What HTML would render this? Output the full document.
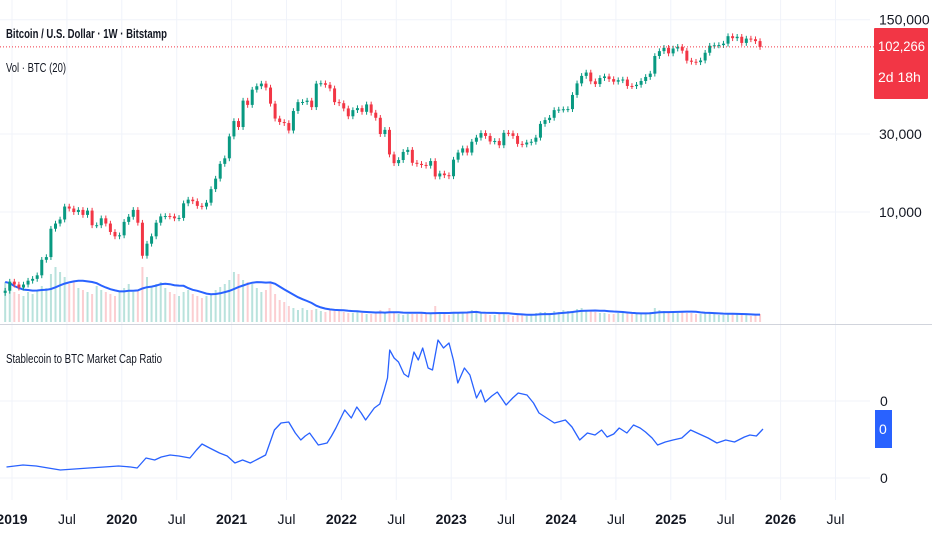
<!DOCTYPE html>
<html><head><meta charset="utf-8">
<style>
html,body{margin:0;padding:0;background:#fff;}
svg{display:block;font-family:"Liberation Sans",sans-serif;}
</style></head>
<body>
<svg id="chart" width="932" height="550" viewBox="0 0 932 550">
  <g id="grid"></g>
  <g id="vol"></g>
  <g id="candles"></g>
  <g id="ratio"></g>
  <g id="axes"></g>
  <text x="6" y="38" font-size="13" font-weight="bold" fill="#131722" textLength="161" lengthAdjust="spacingAndGlyphs">Bitcoin / U.S. Dollar · 1W · Bitstamp</text>
  <text x="6" y="72" font-size="13" fill="#131722" textLength="60" lengthAdjust="spacingAndGlyphs">Vol · BTC (20)</text>
  <text x="6" y="363" font-size="13" fill="#131722" textLength="156" lengthAdjust="spacingAndGlyphs">Stablecoin to BTC Market Cap Ratio</text>
</svg>
<script>
// half-monthly data, Dec 2018 .. Oct 2025
const prices = [3300,3750,
3600,3450,3600,3800,3900,4100,5100,5300,7900,8500,9000,10800,10500,10000,10300,9600,10200,8300,8300,9150,8500,7550,7100,7200,
8700,9350,10300,8600,5400,6400,7100,8600,9400,9450,9400,9150,9200,11300,11900,11650,10900,10800,11400,13800,16000,19700,21300,29000,
36000,33100,48000,45200,56000,58800,61000,57700,46000,37300,35500,35000,31500,41500,47000,47100,48000,43800,61000,61300,60000,57000,47000,46300,
43000,38500,42000,43200,41000,45500,40500,37700,30000,31800,22500,19900,20800,23300,24000,20000,19700,19400,19200,20500,16500,17200,16800,16550,
20900,23100,24500,23100,26900,28500,30400,29200,27000,27200,25600,30500,30300,29200,26100,25900,26600,26900,28500,34600,36500,37700,42000,42300,
42500,42600,52000,61200,68000,71300,63000,60600,66000,67500,65000,62700,64000,64600,59000,58900,60000,63300,67000,70200,90000,96400,101000,93400,
100000,102400,97000,84300,83000,82500,84500,94200,104000,104600,105000,107100,119000,115700,118000,108200,115000,114000,111000,102266];
const volumes = [40,38,
30,28,26,30,28,32,36,34,48,55,50,45,38,40,34,32,30,28,36,32,30,28,26,30,
34,38,30,32,55,45,36,38,40,34,30,28,26,30,32,28,26,24,26,28,32,35,38,42,
50,48,42,40,38,34,30,32,40,28,22,20,16,14,12,14,12,12,13,11,10,12,11,12,
10,9,9,10,9,8,8,9,12,10,14,9,8,7,8,8,8,9,8,8,16,10,8,7,
10,9,9,10,12,10,9,8,7,7,8,9,7,6,8,7,6,7,9,10,10,9,11,10,
12,11,11,13,14,12,11,10,9,9,8,8,9,10,9,8,8,8,9,10,14,12,11,10,
10,9,10,9,9,8,8,9,9,8,7,7,9,8,8,7,7,6,7,8];
const ratioDates = [2018.95,2019.1,2019.22,2019.33,2019.44,2019.57,2019.7,2019.84,2019.97,2020.08,2020.14,2020.22,2020.3,2020.36,2020.44,2020.52,2020.62,2020.68,2020.73,2020.8,2020.89,2020.96,2021.03,2021.1,2021.17,2021.24,2021.31,2021.39,2021.45,2021.52,2021.58,2021.63,2021.67,2021.71,2021.79,2021.87,2021.91,2021.95,2022.03,2022.09,2022.14,2022.18,2022.22,2022.3,2022.35,2022.39,2022.42,2022.44,2022.48,2022.52,2022.57,2022.61,2022.66,2022.7,2022.74,2022.79,2022.83,2022.88,2022.93,2022.98,2023.02,2023.06,2023.12,2023.17,2023.23,2023.27,2023.31,2023.37,2023.42,2023.5,2023.56,2023.61,2023.69,2023.75,2023.8,2023.87,2023.94,2024.04,2024.1,2024.17,2024.24,2024.31,2024.37,2024.42,2024.48,2024.53,2024.6,2024.66,2024.72,2024.77,2024.83,2024.88,2024.95,2025.02,2025.1,2025.18,2025.26,2025.34,2025.42,2025.5,2025.58,2025.67,2025.72,2025.78,2025.84];
const ratioValues = [0.011,0.013,0.012,0.010,0.008,0.009,0.010,0.011,0.012,0.011,0.010,0.020,0.018,0.021,0.023,0.022,0.020,0.028,0.034,0.030,0.025,0.022,0.015,0.018,0.015,0.019,0.023,0.048,0.055,0.056,0.045,0.038,0.042,0.045,0.033,0.035,0.042,0.050,0.068,0.060,0.071,0.065,0.058,0.070,0.074,0.088,0.100,0.128,0.120,0.116,0.104,0.101,0.126,0.118,0.130,0.110,0.108,0.138,0.130,0.135,0.118,0.095,0.110,0.103,0.080,0.088,0.076,0.082,0.086,0.073,0.080,0.085,0.083,0.075,0.065,0.060,0.055,0.058,0.051,0.038,0.045,0.043,0.048,0.041,0.044,0.050,0.045,0.053,0.050,0.046,0.040,0.033,0.036,0.038,0.040,0.048,0.044,0.040,0.035,0.038,0.036,0.041,0.043,0.042,0.049];
const xTickLabels = ["2019","Jul","2020","Jul","2021","Jul","2022","Jul","2023","Jul","2024","Jul","2025","Jul","2026","Jul"];
const xTickDates = [2019,2019.5,2020,2020.5,2021,2021.5,2022,2022.5,2023,2023.5,2024,2024.5,2025,2025.5,2026,2026.5];
const priceTicks = [150000,30000,10000];
const priceTickLabels = ["150,000","30,000","10,000"];

const NS="http://www.w3.org/2000/svg";
function mk(tag,attrs,parent){const e=document.createElementNS(NS,tag);for(const k in attrs)e.setAttribute(k,attrs[k]);parent.appendChild(e);return e;}
const xOf = t => 12 + (t-2019)*109.8;
const tOfIdx = i => 2018.917 + (i+0.5)/24;
const yPrice = p => 134 - 71*Math.log(p/30000);
const yVol = v => 322 - v;
const yRatio = v => 478 - v*1000;

const grid=document.getElementById('grid');
xTickDates.forEach((d,i)=>{
  const l=mk('line',{x1:xOf(d),x2:xOf(d),y1:0,y2:500,stroke:'#f0f3fa','stroke-width':1},grid);
  
  
});
priceTicks.forEach(p=>{
  const l=mk('line',{x1:0,x2:870,y1:yPrice(p),y2:yPrice(p),stroke:'#f0f3fa','stroke-width':1},grid);
  
  
});
[401,478].forEach(y=>{
  const l=mk('line',{x1:0,x2:870,y1:y,y2:y,stroke:'#f0f3fa','stroke-width':1},grid);
  
  
});
const sep=mk('line',{x1:0,x2:932,y1:324.5,y2:324.5,stroke:'#d1d4dc','stroke-width':1},grid);



// volume
const vol=document.getElementById('vol');
volumes.forEach((v,i)=>{
  const up = i===0 || prices[i]>=prices[i-1];
  const r=mk('rect',{x:xOf(tOfIdx(i))-1,y:yVol(v),width:2,height:v,fill:up?'#7fcbbf':'#f8a5ab','fill-opacity':0.55},vol);
  
  
});
let maPts=[];
volumes.forEach((v,i)=>{
  const s=volumes.slice(Math.max(0,i-9),i+1);
  const m=s.reduce((a,b)=>a+b,0)/s.length;
  maPts.push(xOf(tOfIdx(i)).toFixed(1)+','+yVol(m).toFixed(1));
});
const ma=mk('polyline',{points:maPts.join(' '),fill:'none',stroke:'#2962ff','stroke-width':2},vol);



// candles
const cg=document.getElementById('candles');
prices.forEach((c,i)=>{
  const o = i===0 ? c*0.97 : prices[i-1];
  const hi=Math.max(o,c)*1.04, lo=Math.min(o,c)*0.96;
  const up=c>=o, col=up?'#089981':'#f23645', x=xOf(tOfIdx(i));
  const w=mk('line',{x1:x,x2:x,y1:yPrice(hi),y2:yPrice(lo),stroke:col,'stroke-width':1},cg);
  
  
  const yt=yPrice(Math.max(o,c)), yb=yPrice(Math.min(o,c));
  const b=mk('rect',{x:x-1.5,y:yt,width:3,height:Math.max(1,yb-yt),fill:col},cg);
  
  
});
const last=prices[prices.length-1];
const pl=mk('line',{x1:0,x2:874,y1:yPrice(last),y2:yPrice(last),stroke:'#f23645','stroke-width':1,'stroke-dasharray':'1,2'},cg);



// ratio
const rg=document.getElementById('ratio');
const rp=ratioDates.map((d,i)=>xOf(d).toFixed(1)+','+yRatio(ratioValues[i]).toFixed(1)).join(' ');
const rl=mk('polyline',{points:rp,fill:'none',stroke:'#2962ff','stroke-width':1.3,'stroke-linejoin':'round'},rg);



// axes
const ax=document.getElementById('axes');
xTickDates.forEach((d,i)=>{
  const yr=/^\d/.test(xTickLabels[i]);
  const t=mk('text',{x:xOf(d),y:524,'font-size':14,'text-anchor':'middle',fill:'#131722','font-weight':yr?'bold':'normal'},ax);
  t.textContent=xTickLabels[i];
  
  
});
priceTicks.forEach((p,i)=>{
  const t=mk('text',{x:879,y:yPrice(p)+5,'font-size':14,fill:'#131722'},ax);
  t.textContent=priceTickLabels[i];
  
  
});
[406,483].forEach(y=>{
  const t=mk('text',{x:880,y:y,'font-size':14,fill:'#131722'},ax);
  t.textContent='0';
  
  
});
const lb=mk('rect',{x:874,y:28,width:54,height:71,fill:'#f23645',rx:1},ax);


const lt=mk('text',{x:878,y:51,'font-size':14,fill:'#fff',textLength:47,lengthAdjust:'spacingAndGlyphs'},ax);
lt.textContent='102,266';


const ct=mk('text',{x:878,y:82,'font-size':14,fill:'#fff'},ax);
ct.textContent='2d 18h';


const rb=mk('rect',{x:875,y:410,width:17,height:38,fill:'#2962ff'},ax);


const rt=mk('text',{x:879,y:434,'font-size':14,fill:'#fff'},ax);
rt.textContent='0';


</script>
</body></html>
